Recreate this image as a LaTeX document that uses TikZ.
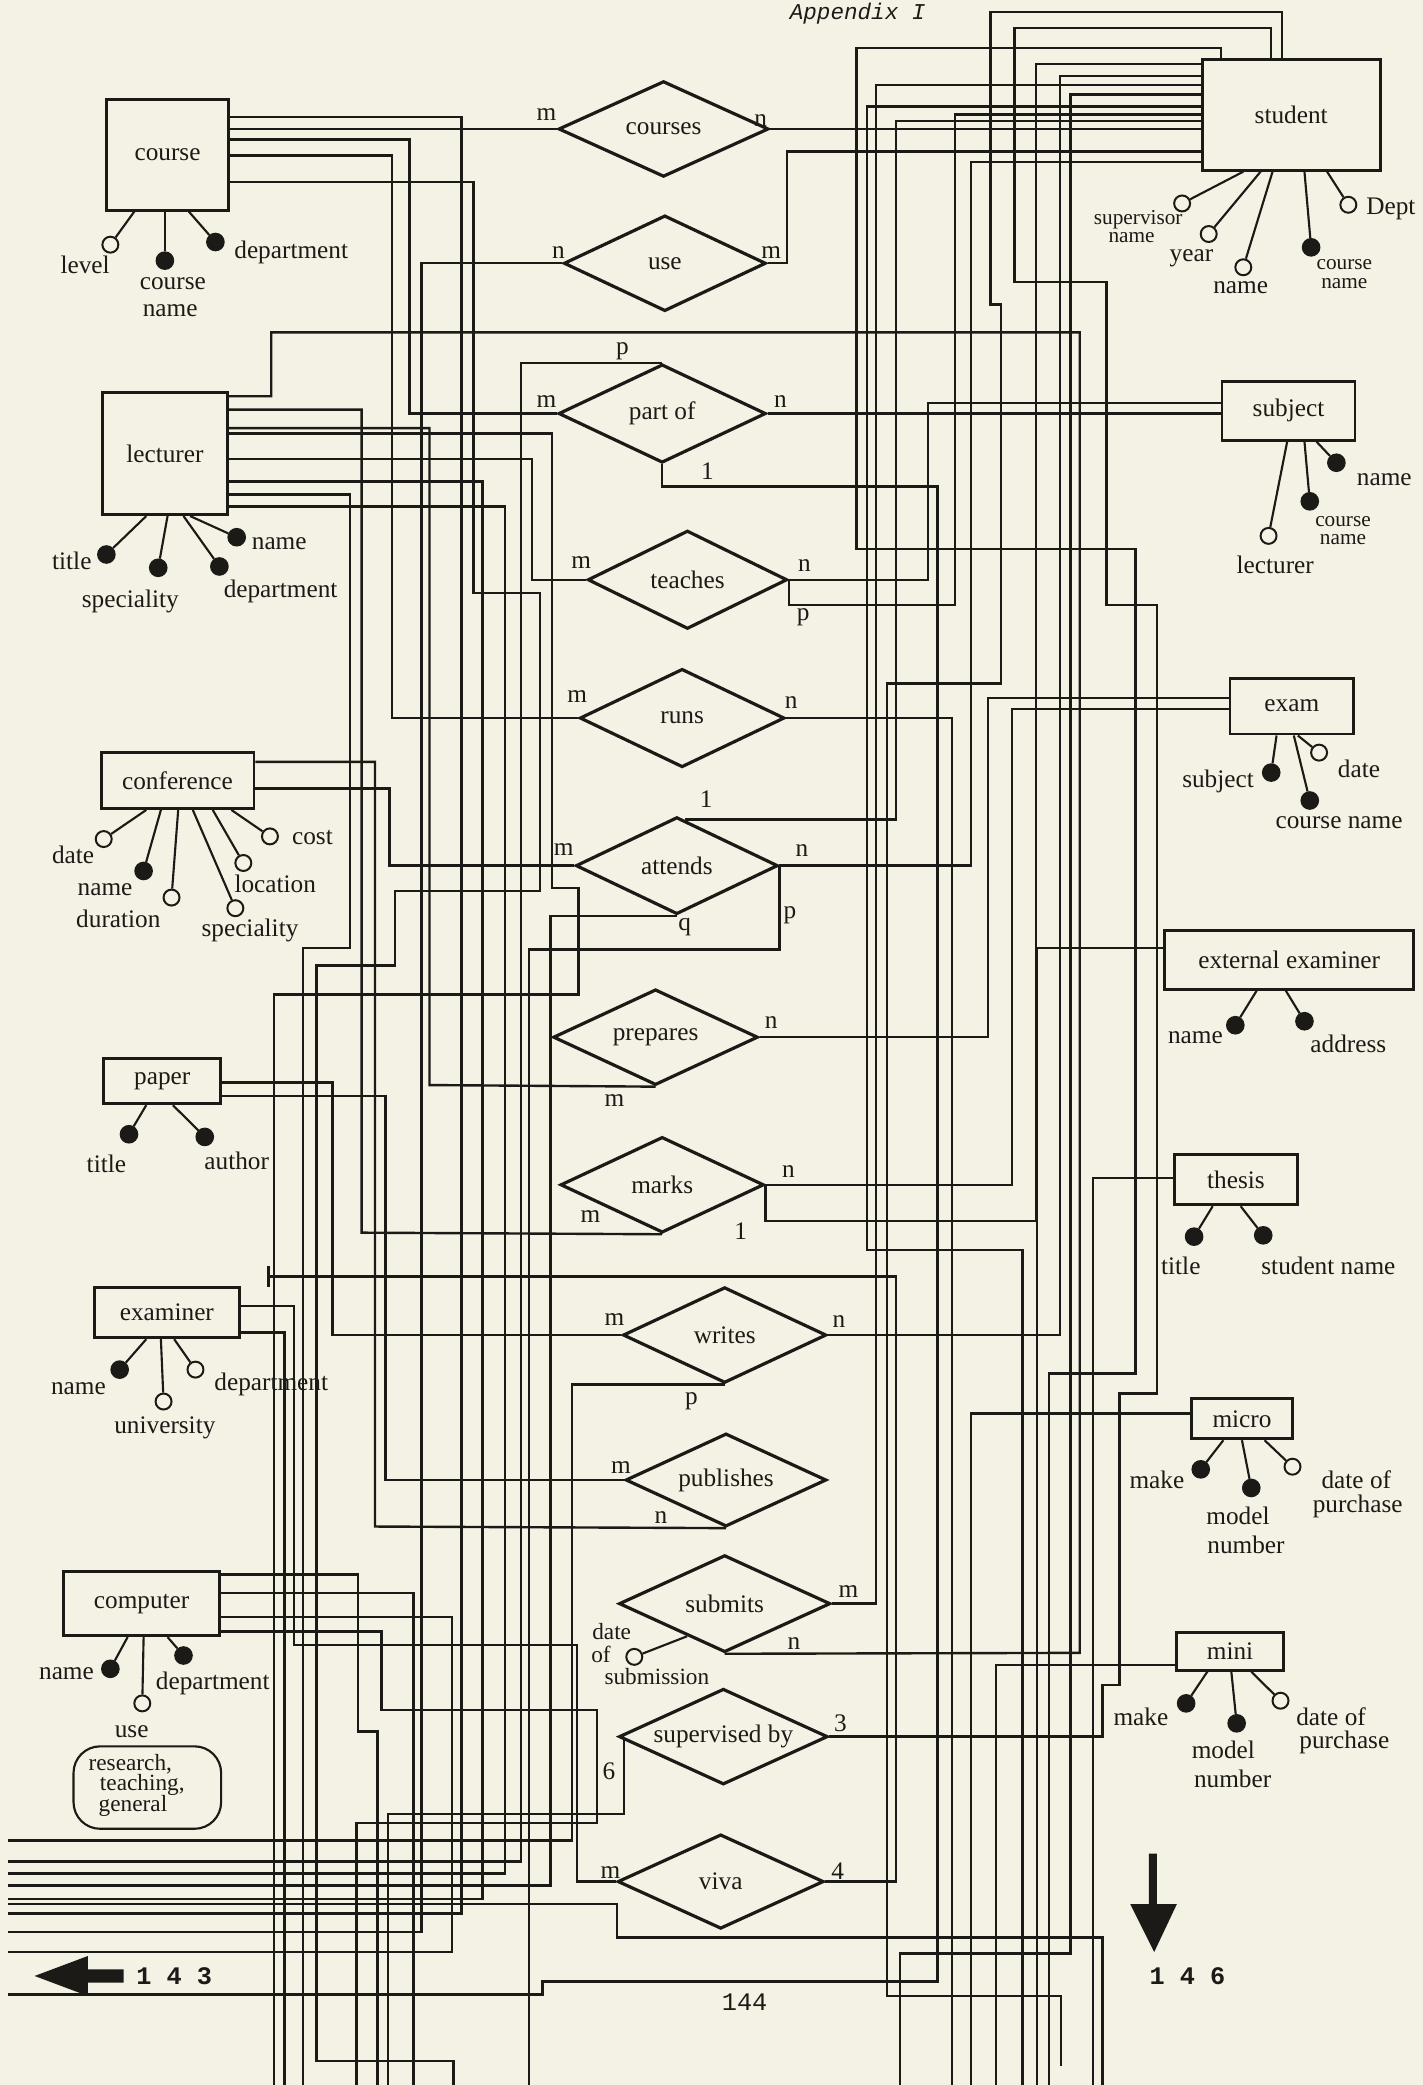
\documentclass[tikz,border=0pt]{standalone}
\usepackage{fontspec}
\setmainfont{Liberation Serif}
\newfontfamily\tyfont{Liberation Mono}
\usetikzlibrary{shapes.geometric,calc}
\definecolor{paper}{RGB}{244,242,228}
\definecolor{ink}{RGB}{28,26,22}
\begin{document}
\begin{tikzpicture}[x=1pt,y=-1pt,
  lbl/.style={font=\fontsize{19}{19}\selectfont, inner sep=0pt, text=ink},
  sml/.style={font=\fontsize{16}{16}\selectfont, inner sep=0pt, text=ink},
  mid/.style={font=\fontsize{17.5}{17.5}\selectfont, inner sep=0pt, text=ink},
  ent/.style={draw=ink, line width=2.2pt, rectangle, inner sep=0pt, text=ink, font=\fontsize{19}{19}\selectfont},
  rel/.style={draw=ink, line width=2.4pt, shape=diamond, aspect=2.1, inner sep=0pt, text=ink, font=\fontsize{19}{19}\selectfont},
  wire/.style={draw=ink, line width=1.8pt, line join=miter},
  att/.style={draw=ink, line width=1.6pt},
  opn/.style={circle, draw=ink, fill=paper, line width=1.5pt, minimum size=12pt, inner sep=0pt},
  fil/.style={circle, draw=ink, fill=ink, line width=1pt, minimum size=13pt, inner sep=0pt},
  tty/.style={font=\tyfont\bfseries\fontsize{19}{19}\selectfont, inner sep=0pt, text=ink}]
\fill[paper] (0,0) rectangle (1070,1568);
\useasboundingbox (0,0) rectangle (1070,1568);

% ---------------- entities
\node[ent, minimum width=92pt, minimum height=83pt] (course) at (126,116.5) {course};
\node[ent, minimum width=134pt, minimum height=83pt] (student) at (971,86.5) {student};
\node[ent, minimum width=94pt, minimum height=92pt] (lecturer) at (124,341) {lecturer};
\node[ent, minimum width=100pt, minimum height=44pt] (subject) at (969,309) {subject};
\node[ent, minimum width=115pt, minimum height=42pt] (conference) at (133.5,587) {conference};
\node[ent, minimum width=93pt, minimum height=42pt] (exam) at (971.5,531) {exam};
\node[ent, minimum width=187pt, minimum height=44pt] (extex) at (969.5,722) {external examiner};
\node[ent, minimum width=88pt, minimum height=34pt] (paper) at (122,813) {paper};
\node[ent, minimum width=93pt, minimum height=38pt] (thesis) at (929.5,887) {thesis};
\node[ent, minimum width=109pt, minimum height=38pt] (examiner) at (125.5,987) {examiner};
\node[ent, minimum width=76pt, minimum height=30pt] (micro) at (934,1067) {micro};
\node[ent, minimum width=117pt, minimum height=48pt] (computer) at (106.5,1206) {computer};
\node[ent, minimum width=80pt, minimum height=28pt] (mini) at (925,1242) {mini};

% ---------------- relationships
\node[rel, minimum width=158pt, minimum height=72pt] (courses) at (499,97) {courses};
\node[rel, minimum width=152pt, minimum height=72pt] (use) at (500,198) {use};
\node[rel, minimum width=156pt, minimum height=74pt] (partof) at (498,311) {part of};
\node[rel, minimum width=150pt, minimum height=74pt] (teaches) at (517,436) {teaches};
\node[rel, minimum width=154pt, minimum height=74pt] (runs) at (513,540) {runs};
\node[rel, minimum width=152pt, minimum height=73pt] (attends) at (509,651) {attends};
\node[rel, minimum width=154pt, minimum height=72pt] (prepares) at (493,780) {prepares};
\node[rel, minimum width=153pt, minimum height=72pt] (marks) at (498,891) {marks};
\node[rel, minimum width=153pt, minimum height=72pt] (writes) at (545,1004) {writes};
\node[rel, minimum width=151pt, minimum height=70pt] (publishes) at (546,1113) {publishes};
\node[rel, minimum width=159pt, minimum height=73pt] (submits) at (545,1206) {submits};
\node[rel, minimum width=157pt, minimum height=72pt] (supervised) at (544,1306) {supervised by};
\node[rel, minimum width=155pt, minimum height=71pt] (viva) at (542,1415) {viva};

% ---------------- wires: course
\draw[wire] (course.east |- 0,88) -| (347,1439) -- (6,1439);
\draw[wire] (course.east |- 0,97) -- (courses.west);
\draw[wire] (course.east |- 0,105) -| (308,311) -- (partof.west);
\draw[wire] (course.east |- 0,117) -| (295,540) -- (runs.west);
\draw[wire] (course.east |- 0,137) -| (356,446) -| (406,670) -| (297,726) -| (238,1550) -| (341,1568);
% courses / use / part of
\draw[wire] (courses.east) -- (student.west |- 0,97);
\draw[wire] (use.west) -| (317,1453) -- (6,1453);
\draw[wire] (use.east) -| (592,114) -- (student.west |- 0,114);
\draw[wire] (partof.north) -| (392,1400) -- (6,1400);
\draw[wire] (partof.south) |- (705,366) |- (408,1490) |- (6,1500);
\draw[wire] (partof.east) -- (subject.west |- 0,311);
% lecturer
\draw[wire] (lecturer.east |- 0,298) -| (204,250) -| (812,1243) -- (submits.south);
\draw[wire] (lecturer.east |- 0,308) -| (272,927) -- (marks.south);
\draw[wire] (lecturer.east |- 0,322) -| (323,816) -- (prepares.south);
\draw[wire] (lecturer.east |- 0,326) -| (415,668) -| (435,748) -| (206,1568);
\draw[wire] (lecturer.east |- 0,345) -| (400,436) -- (teaches.west);
\draw[wire] (lecturer.east |- 0,362) -| (363,1428) -- (6,1428);
\draw[wire] (lecturer.east |- 0,372) -| (263,713) -| (228,1568);
\draw[wire] (lecturer.east |- 0,381) -| (380,1409) -- (6,1409);
% teaches / runs
\draw[wire] (teaches.east) -| (698,303) -- (subject.west |- 0,303);
\draw[wire] (teaches.east) |- (718,455) |- (student.west |- 0,86);
\draw[wire] (runs.east) -| (716,1568);
% conference / attends
\draw[wire] (conference.east |- 0,573) -| (282,1148) -- (publishes.south);
\draw[wire] (conference.east |- 0,593) -| (293,651) -- (attends.west);
\draw[wire] (attends.south) -| (414,1418) -- (6,1418);
\draw[wire] (attends.east) |- (398,714) -- (398,1568);
\draw[wire] (attends.east) -| (730,122) -- (student.west |- 0,122);
\draw[wire] ($(attends.north)+(6,3)$) -| (674,91) -- (student.west |- 0,91);
% prepares / marks
\draw[wire] (prepares.east) -| (743,525) -- (exam.west |- 0,525);
\draw[wire] (marks.east) -| (761,533) -- (exam.west |- 0,533);
\draw[wire] (marks.east) |- (779,918) |- (student.west |- 0,48);
% writes / publishes / submits
\draw[wire] (writes.west) -| (250,814) -- (paper.east |- 0,814);
\draw[wire] (writes.east) -| (797,57) -- (student.west |- 0,57);
\draw[wire] (writes.south) -| (430,1384) -- (6,1384);
\draw[wire] (publishes.west) -| (290,824) -- (paper.east |- 0,824);
\draw[wire] (submits.east) -| (659,64) -- (student.west |- 0,64);
% supervised by / viva
\draw[wire] (supervised.east) -| (829,1267) -| (842,1048) -| (870,455) -| (832,212) -| (763,21) -| (student.north -| 956,0);
\draw[wire] ($(supervised.west)+(5,2)$) |- (292,1364) -- (292,1568);
\draw[wire] (viva.west) -| (434,1237) -| (221,982) -- (examiner.east |- 0,982);
\coordinate (stub) at (202,960);
\draw[wire] (viva.east) -| (674,960) -- (stub);
\draw[wire] (202,952) -- (202,968);
% student downward wires
\draw[wire] (student.west |- 0,71) -| (805,1469) -| (677,1568);
\draw[wire] (student.west |- 0,80) -| (652,940) -| (769,1568);
\draw[wire] (student.north -| 918,0) |- (644,36) |- (854,413) |- (789,1033) -- (789,1568);
\draw[wire] (student.north -| 964,0) |- (745,9) |- (753,229) |- (667,514) |- (798,1501) -- (798,1554);
% right-hand entities
\draw[wire] (extex.west |- 0,713) -| (780,1568);
\draw[wire] (thesis.west |- 0,886) -| (822,1568);
\draw[wire] (micro.west |- 0,1063) -| (730,1568);
\draw[wire] (mini.west |- 0,1252) -| (749,1568);
% examiner / computer
\draw[wire] (examiner.east |- 0,1002) -| (214,1568);
\draw[wire] (computer.east |- 0,1184) -| (269,1302) -| (284,1568);
\draw[wire] (computer.east |- 0,1198) -| (311,1568);
\draw[wire] (computer.east |- 0,1216) -| (340,1468) -- (6,1468);
\draw[wire] (computer.east |- 0,1227) -| (287,1286) -| (449,1371) -| (268,1568);
\draw[wire] (6,1432) -| (464,1457) -| (829,1568);

% ---------------- attributes
% course
\node[opn] (cLev) at (83,184) {};
\node[fil] (cNam) at (124,196) {};
\node[fil] (cDep) at (162,182) {};
\draw[att] (course.south -| 101,0) -- (cLev);
\draw[att] (course.south -| 124,0) -- (cNam);
\draw[att] (course.south -| 142,0) -- (cDep);
\node[lbl] (tcLev) at (64,199) {level};
\node[lbl] (tcN1) at (130,213) {course};
\node[lbl] (tcN2) at (128,234) {name};
\node[lbl] (tcDep) at (219,190) {department};
% student
\node[opn] (sSup) at (889,153) {};
\node[opn] (sYr) at (909,176) {};
\node[opn] (sNm) at (935,201) {};
\node[fil] (sCn) at (986,186) {};
\node[opn] (sDp) at (1014,154) {};
\draw[att] (student.south -| 935,0) -- (sSup);
\draw[att] (student.south -| 948,0) -- (sYr);
\draw[att] (student.south -| 957,0) -- (sNm);
\draw[att] (student.south -| 981,0) -- (sCn);
\draw[att] (student.south -| 998,0) -- (sDp);
\node[sml] (tsS1) at (856,165) {supervisor};
\node[sml] (tsS2) at (851,179) {name};
\node[lbl] (tsY) at (896,194) {year};
\node[lbl] (tsN) at (933,216) {name};
\node[sml] (tsC1) at (1011,199) {course};
\node[sml] (tsC2) at (1011,213) {name};
\node[lbl] (tsD) at (1046,157) {Dept};
% lecturer
\node[fil] (lTi) at (80,417) {};
\node[fil] (lSp) at (119,427) {};
\node[fil] (lDe) at (165,426) {};
\node[fil] (lNa) at (178,404) {};
\draw[att] (lecturer.south -| 110,0) -- (lTi);
\draw[att] (lecturer.south -| 126,0) -- (lSp);
\draw[att] (lecturer.south -| 138,0) -- (lDe);
\draw[att] (lecturer.south -| 143,0) -- (lNa);
\node[lbl] (tlTi) at (54,422) {title};
\node[lbl] (tlSp) at (98,452) {speciality};
\node[lbl] (tlDe) at (211,445) {department};
\node[lbl] (tlNa) at (210,409) {name};
% subject
\node[opn] (uLe) at (954,403) {};
\node[fil] (uCn) at (985,377) {};
\node[fil] (uNa) at (1005,348) {};
\draw[att] (subject.south -| 968,0) -- (uLe);
\draw[att] (subject.south -| 981,0) -- (uCn);
\draw[att] (subject.south -| 990,0) -- (uNa);
\node[lbl] (tuLe) at (959,425) {lecturer};
\node[sml] (tuC1) at (1010,392) {course};
\node[sml] (tuC2) at (1010,406) {name};
\node[lbl] (tuNa) at (1041,361) {name};
% conference
\node[opn] (fDa) at (78,631) {};
\node[fil] (fNa) at (108,655) {};
\node[opn] (fDu) at (129,675) {};
\node[opn] (fSp) at (177,683) {};
\node[opn] (fLo) at (183,649) {};
\node[opn] (fCo) at (203,629) {};
\draw[att] (conference.south -| 110,0) -- (fDa);
\draw[att] (conference.south -| 121,0) -- (fNa);
\draw[att] (conference.south -| 134,0) -- (fDu);
\draw[att] (conference.south -| 145,0) -- (fSp);
\draw[att] (conference.south -| 160,0) -- (fLo);
\draw[att] (conference.south -| 174,0) -- (fCo);
\node[lbl] (tfDa) at (55,643) {date};
\node[lbl] (tfNa) at (79,669) {name};
\node[lbl] (tfDu) at (89,691) {duration};
\node[lbl] (tfSp) at (188,700) {speciality};
\node[lbl] (tfLo) at (207,665) {location};
\node[lbl] (tfCo) at (235,630) {cost};
% exam
\node[fil] (eSu) at (956,581) {};
\node[fil] (eCn) at (985,602) {};
\node[opn] (eDa) at (992,566) {};
\draw[att] (exam.south -| 960,0) -- (eSu);
\draw[att] (exam.south -| 973,0) -- (eCn);
\draw[att] (exam.south -| 976,0) -- (eDa);
\node[lbl] (teSu) at (916,588) {subject};
\node[lbl] (teCn) at (1007,619) {course name};
\node[lbl] (teDa) at (1022,578) {date};
% external examiner
\node[fil] (xNa) at (929,771) {};
\node[fil] (xAd) at (981,768) {};
\draw[att] (extex.south -| 945,0) -- (xNa);
\draw[att] (extex.south -| 967,0) -- (xAd);
\node[lbl] (txNa) at (899,780) {name};
\node[lbl] (txAd) at (1014,785) {address};
% paper
\node[fil] (pTi) at (97,853) {};
\node[fil] (pAu) at (154,855) {};
\draw[att] (paper.south -| 110,0) -- (pTi);
\draw[att] (paper.south -| 130,0) -- (pAu);
\node[lbl] (tpTi) at (80,875) {title};
\node[lbl] (tpAu) at (178,873) {author};
% thesis
\node[fil] (hTi) at (898,930) {};
\node[fil] (hSn) at (950,929) {};
\draw[att] (thesis.south -| 912,0) -- (hTi);
\draw[att] (thesis.south -| 933,0) -- (hSn);
\node[lbl] (thTi) at (888,952) {title};
\node[lbl] (thSn) at (999,952) {student name};
% examiner
\node[fil] (rNa) at (90,1030) {};
\node[opn] (rUn) at (123,1054) {};
\node[opn] (rDe) at (147,1030) {};
\draw[att] (examiner.south -| 110,0) -- (rNa);
\draw[att] (examiner.south -| 121,0) -- (rUn);
\draw[att] (examiner.south -| 131,0) -- (rDe);
\node[lbl] (trNa) at (59,1044) {name};
\node[lbl] (trUn) at (124,1074) {university};
\node[lbl] (trDe) at (204,1041) {department};
% micro
\node[fil] (mMa) at (903,1105) {};
\node[fil] (mMo) at (941,1119) {};
\node[opn] (mDa) at (972,1103) {};
\draw[att] (micro.south -| 920,0) -- (mMa);
\draw[att] (micro.south -| 934,0) -- (mMo);
\draw[att] (micro.south -| 951,0) -- (mDa);
\node[lbl] (tmMa) at (870,1113) {make};
\node[lbl] (tmMo1) at (931,1140) {model};
\node[lbl] (tmMo2) at (937,1162) {number};
\node[lbl] (tmDa1) at (1020,1113) {date of};
\node[lbl] (tmDa2) at (1021,1133) {purchase};
% computer
\node[fil] (kNa) at (83,1255) {};
\node[opn] (kUs) at (107,1281) {};
\node[fil] (kDe) at (138,1245) {};
\draw[att] (computer.south -| 96,0) -- (kNa);
\draw[att] (computer.south -| 108,0) -- (kUs);
\draw[att] (computer.south -| 126,0) -- (kDe);
\node[lbl] (tkNa) at (50,1259) {name};
\node[lbl] (tkUs) at (99,1302) {use};
\node[lbl] (tkDe) at (160,1266) {department};
\node[draw=ink, line width=1.6pt, rounded corners=20pt, minimum width=111pt, minimum height=62pt, inner sep=0pt] (usebox) at (110.8,1344.3) {};
\node[mid] (tkU1) at (98,1327) {research,};
\node[mid] (tkU2) at (107,1342) {teaching,};
\node[mid] (tkU3) at (100,1358) {general};
% mini
\node[fil] (nMa) at (892,1281) {};
\node[fil] (nMo) at (930,1296) {};
\node[opn] (nDa) at (963,1279) {};
\draw[att] (mini.south -| 908,0) -- (nMa);
\draw[att] (mini.south -| 926,0) -- (nMo);
\draw[att] (mini.south -| 941,0) -- (nDa);
\node[lbl] (tnMa) at (858,1291) {make};
\node[lbl] (tnMo1) at (920,1316) {model};
\node[lbl] (tnMo2) at (927,1338) {number};
\node[lbl] (tnDa1) at (1001,1291) {date of};
\node[lbl] (tnDa2) at (1011,1310) {purchase};
% submits attribute
\node[opn] (dSub) at (477,1246) {};
\draw[att] ($(submits.west)!0.65!(submits.south)$) -- (dSub);
\node[mid] (tdS1) at (460,1227) {date};
\node[mid] (tdS2) at (452,1244) {of};
\node[mid] (tdS3) at (494,1261) {submission};

% ---------------- cardinalities
\node[lbl] (k01) at (411,86) {m};
\node[lbl] (k02) at (572,91) {n};
\node[lbl] (k03) at (420,190) {n};
\node[lbl] (k04) at (580,190) {m};
\node[lbl] (k05) at (468,264) {p};
\node[lbl] (k06) at (411,302) {m};
\node[lbl] (k07) at (587,302) {n};
\node[lbl] (k08) at (532,354) {1};
\node[lbl] (k09) at (437,423) {m};
\node[lbl] (k10) at (605,425) {n};
\node[lbl] (k11) at (604,464) {p};
\node[lbl] (k12) at (434,524) {m};
\node[lbl] (k13) at (595,528) {n};
\node[lbl] (k14) at (531,601) {1};
\node[lbl] (k15) at (424,639) {m};
\node[lbl] (k16) at (603,640) {n};
\node[lbl] (k17) at (515,697) {q};
\node[lbl] (k18) at (594,688) {p};
\node[lbl] (k19) at (580,769) {n};
\node[lbl] (k20) at (462,828) {m};
\node[lbl] (k21) at (593,881) {n};
\node[lbl] (k22) at (444,915) {m};
\node[lbl] (k23) at (557,926) {1};
\node[lbl] (k24) at (462,992) {m};
\node[lbl] (k25) at (631,994) {n};
\node[lbl] (k26) at (520,1054) {p};
\node[lbl] (k27) at (467,1104) {m};
\node[lbl] (k28) at (497,1141) {n};
\node[lbl] (k29) at (638,1197) {m};
\node[lbl] (k30) at (597,1236) {n};
\node[lbl] (k31) at (632,1296) {3};
\node[lbl] (k32) at (458,1332) {6};
\node[lbl] (k33) at (459,1408) {m};
\node[lbl] (k34) at (630,1407) {4};

% ---------------- page marks
\node[font=\tyfont\itshape\fontsize{17}{17}\selectfont, text=ink, anchor=base, inner sep=0pt] (app) at (645,15) {Appendix I};
\node[tty] (p143) at (131,1486) {1 4 3};
\node[tty, font=\tyfont\fontsize{19}{19}\selectfont] (p144) at (560,1506) {144};
\node[tty] (p146) at (893,1486) {1 4 6};
\fill[ink] (26,1486) -- (66,1471) -- (66,1481) -- (93,1481) -- (93,1491) -- (66,1491) -- (66,1501) -- cycle;
\fill[ink] (864,1394) -- (870,1394) -- (870,1432) -- (885,1432) -- (868,1468) -- (850,1432) -- (864,1432) -- cycle;
\end{tikzpicture}
\end{document}
